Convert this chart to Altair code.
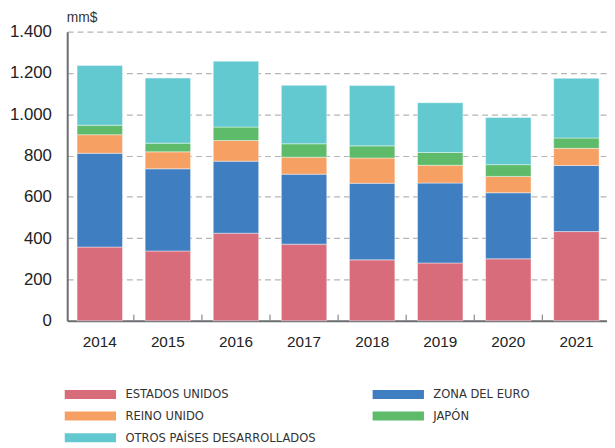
import altair as alt
import pandas as pd

years = ["2014", "2015", "2016", "2017", "2018", "2019", "2020", "2021"]
series_names = ["ESTADOS UNIDOS", "ZONA DEL EURO", "REINO UNIDO", "JAPÓN", "OTROS PAÍSES DESARROLLADOS"]
estados_unidos = [357, 338, 424, 371, 295, 280, 300, 432]
zona_euro = [454, 398, 349, 339, 371, 387, 320, 320]
reino_unido = [90, 82, 100, 82, 122, 86, 79, 83]
japon = [46, 42, 65, 65, 59, 62, 57, 50]
otros = [289, 315, 319, 283, 292, 241, 228, 289]
colors = ["#D96C7B", "#3F7FC1", "#F7A063", "#5DBB6A", "#63C9D1"]
y_ticks = [0, 200, 400, 600, 800, 1000, 1200, 1400]

series_values = [estados_unidos, zona_euro, reino_unido, japon, otros]
rows = []
for si, (name, vals) in enumerate(zip(series_names, series_values)):
    for y, v in zip(years, vals):
        rows.append({"year": y, "serie": name, "value": v, "order": si})
df = pd.DataFrame(rows)
tick_df = pd.DataFrame({"year": years})

font = "Arial, Helvetica, 'Liberation Sans', sans-serif"
narrow = "'Liberation Sans Narrow', 'Arial Narrow', 'DejaVu Sans Condensed', sans-serif"
xscale = alt.Scale(domain=years, range=[0, 549], paddingInner=0.333, paddingOuter=0.145)
yscale = alt.Scale(domain=[0, 1400], nice=False)

bars = alt.Chart(df).mark_bar(stroke="white", strokeWidth=0.6, strokeOpacity=0.7).encode(
    x=alt.X("year:N", scale=xscale, sort=years,
            axis=alt.Axis(title=None, labelAngle=0, ticks=False, domainColor="#6b6e72",
                          domainWidth=2, labelFont=font, labelFontSize=15.5, labelColor="#222",
                          labelPadding=14, grid=False)),
    y=alt.Y("value:Q", scale=yscale, stack="zero",
            axis=alt.Axis(values=y_ticks, title="mm$", titleAngle=0, titleX=-1, titleY=-14,
                          titleAlign="left", titleBaseline="middle", titleFont=font,
                          titleFontSize=14, titleFontWeight="normal", titleColor="#333",
                          labelExpr="replace(format(datum.value, ','), ',', '.')",
                          labelFont=font, labelFontSize=17, labelColor="#222", labelPadding=16,
                          ticks=False, domainColor="#6b6e72", domainWidth=2,
                          grid=True, gridColor="#b5b5b5", gridDash=[6, 4], gridWidth=1.2)),
    color=alt.Color("serie:N", scale=alt.Scale(domain=series_names, range=colors),
                    legend=alt.Legend(title=None, orient="none", legendX=-4, legendY=361,
                                      columns=2, direction="horizontal", padding=0,
                                      symbolType="M-1,-0.9 L9.4,-0.9 L9.4,0.9 L-1,0.9 Z",
                                      symbolSize=100, symbolStrokeWidth=0, symbolOpacity=1,
                                      labelOffset=50, labelFont=narrow, labelLimit=400,
                                      labelFontSize=13, labelColor="#333", rowPadding=8,
                                      columnPadding=56)),
    order=alt.Order("order:Q", sort="ascending"),
)

ticks = alt.Chart(tick_df).mark_rule(xOffset=34.5, color="#888", strokeWidth=1.2).encode(
    x=alt.X("year:N", scale=xscale, sort=years),
    y=alt.datum(0),
    y2=alt.datum(29),
)

chart = alt.layer(bars, ticks).properties(
    width=547, height=293,
    padding={"left": 60, "top": 21, "right": 0, "bottom": 130},
    autosize=alt.AutoSizeParams(type="none"),
).configure_view(stroke=None)

chart.save("out.html", embed_options={"renderer": "svg", "actions": False})
